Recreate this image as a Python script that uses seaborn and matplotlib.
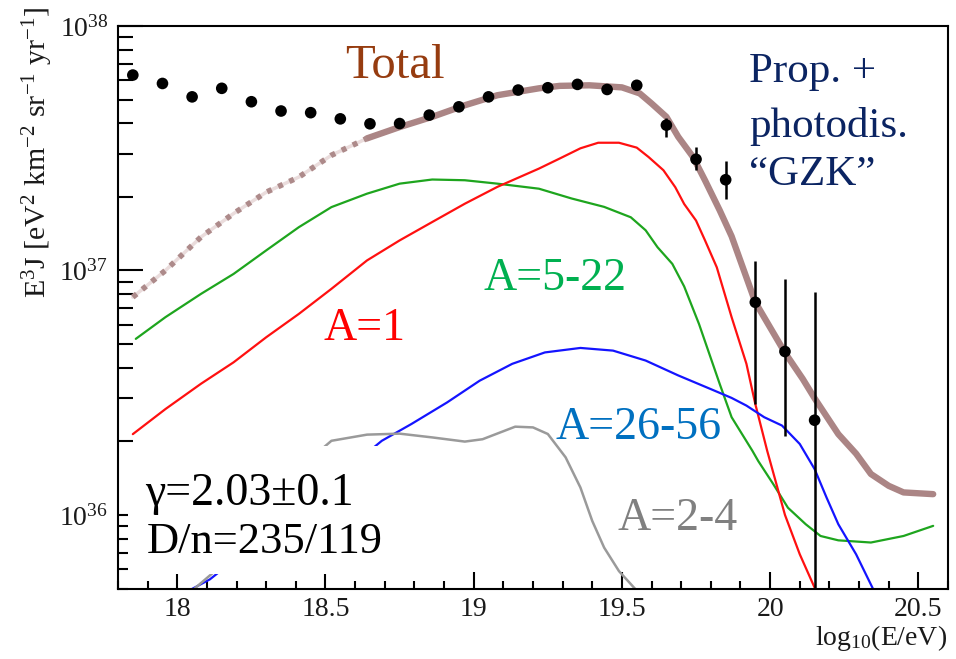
import matplotlib
matplotlib.use("Agg")
import matplotlib.pyplot as plt
from matplotlib.patches import Rectangle
from matplotlib.ticker import FixedLocator, LogLocator, LogFormatterMathtext, MultipleLocator, NullFormatter
import pandas as pd
import seaborn as sns

# E^3 J values are given in units of 1e37 eV^2 km^-2 sr^-1 yr^-1
SCALE = 1e37

# measured spectrum
data_logE = [17.85, 17.95, 18.05, 18.15, 18.25, 18.35, 18.45, 18.55, 18.65, 18.75, 18.85, 18.95,
             19.05, 19.15, 19.25, 19.35, 19.45, 19.55, 19.65, 19.75, 19.85, 19.95, 20.05, 20.15]
data_flux = [6.30, 5.82, 5.13, 5.56, 4.90, 4.49, 4.42, 4.17, 3.98, 3.99, 4.32, 4.67,
             5.13, 5.47, 5.59, 5.77, 5.50, 5.72, 3.93, 2.85, 2.35, 0.741, 0.466, 0.244]
bar_logE = [19.65, 19.75, 19.85, 19.95, 20.05, 20.15]
bar_lo = [3.51, 2.57, 1.96, 0.285, 0.211, 0.01]
bar_hi = [4.20, 3.20, 2.81, 1.09, 0.927, 0.813]

# model: total flux (dashed below the fit range)
total_logE = [17.85, 17.96, 18.08, 18.19, 18.30, 18.41, 18.52, 18.64, 18.75, 18.86, 18.97, 19.08,
              19.22, 19.29, 19.39, 19.50, 19.56, 19.60, 19.65, 19.69, 19.74, 19.78, 19.83, 19.87,
              19.95, 20.05, 20.11, 20.15, 20.23, 20.29, 20.34, 20.40, 20.45, 20.55]
total_flux = [0.778, 1.00, 1.37, 1.71, 2.09, 2.41, 2.96, 3.47, 3.86, 4.25, 4.74, 5.21,
              5.56, 5.69, 5.72, 5.61, 5.30, 4.82, 4.25, 3.52, 2.91, 2.34, 1.76, 1.38,
              0.741, 0.461, 0.36, 0.30, 0.214, 0.178, 0.147, 0.1315, 0.1236, 0.1216]
fit_start = 18.64

# model components by mass group
red_logE = [17.85, 17.96, 18.08, 18.19, 18.30, 18.41, 18.52, 18.64, 18.75, 18.86, 18.97, 19.08,
            19.22, 19.29, 19.36, 19.42, 19.49, 19.55, 19.59, 19.64, 19.68, 19.71, 19.75, 19.78,
            19.82, 19.87, 19.92, 19.95, 19.97, 19.99, 20.05, 20.10, 20.15]
red_flux = [0.214, 0.271, 0.344, 0.421, 0.533, 0.664, 0.841, 1.099, 1.327, 1.578, 1.875, 2.198,
            2.61, 2.87, 3.16, 3.33, 3.33, 3.18, 2.91, 2.57, 2.19, 1.87, 1.60, 1.33,
            1.03, 0.644, 0.415, 0.284, 0.228, 0.183, 0.10, 0.069, 0.0504]

green_logE = [17.86, 17.96, 18.08, 18.19, 18.30, 18.41, 18.52, 18.64, 18.75, 18.86, 18.97, 19.08,
              19.22, 19.33, 19.44, 19.53, 19.58, 19.62, 19.67, 19.71, 19.76, 19.83, 19.87, 19.94,
              19.96, 20.01, 20.06, 20.12, 20.17, 20.23, 20.34, 20.45, 20.55]
green_flux = [0.525, 0.644, 0.802, 0.968, 1.208, 1.503, 1.816, 2.061, 2.265, 2.355, 2.339, 2.265,
              2.16, 1.97, 1.82, 1.65, 1.46, 1.245, 1.064, 0.86, 0.604, 0.343, 0.251, 0.183,
              0.166, 0.134, 0.107, 0.0916, 0.0820, 0.0787, 0.0771, 0.0820, 0.0902]

blue_logE = [18.05, 18.11, 18.30, 18.50, 18.69, 18.79, 18.91, 19.02, 19.13, 19.24, 19.36, 19.47,
             19.58, 19.69, 19.80, 19.87, 19.92, 19.98, 20.04, 20.10, 20.15, 20.19, 20.23, 20.29, 20.35]
blue_flux = [0.0498, 0.0545, 0.083, 0.13, 0.201, 0.2355, 0.2884, 0.354, 0.415, 0.462, 0.482, 0.470,
             0.428, 0.372, 0.327, 0.301, 0.280, 0.251, 0.232, 0.195, 0.154, 0.118, 0.0916, 0.0690, 0.049]

gray_logE = [18.05, 18.30, 18.45, 18.52, 18.64, 18.75, 18.86, 18.97, 19.03, 19.14, 19.20, 19.25,
             19.31, 19.36, 19.40, 19.44, 19.49, 19.55]
gray_flux = [0.049, 0.089, 0.17, 0.201, 0.213, 0.215, 0.2075, 0.1995, 0.204, 0.2296, 0.228, 0.2143,
             0.172, 0.1294, 0.0944, 0.0735, 0.0589, 0.049]

x_ticks = [18.0, 18.5, 19.0, 19.5, 20.0, 20.5]
x_ticklabels = ["18", "18.5", "19", "19.5", "20", "20.5"]

sns.set_style("ticks")
plt.rcParams["font.family"] = ["Liberation Serif", "DejaVu Serif"]
plt.rcParams["mathtext.fontset"] = "custom"
plt.rcParams["mathtext.rm"] = "Liberation Serif"
plt.rcParams["mathtext.it"] = "Liberation Serif:italic"
plt.rcParams["mathtext.bf"] = "Liberation Serif:bold"

W, H = 956, 659
fig = plt.figure(figsize=(W / 100, H / 100), dpi=100)
ax = fig.add_axes([118 / W, 1 - 588.5 / H, 830 / W, 562.5 / H])
ax.set_yscale("log")


def frame(xs, ys):
    return pd.DataFrame({"logE": xs, "flux": [v * SCALE for v in ys]})


total = frame(total_logE, total_flux)
low = total[total["logE"] <= fit_start]
high = total[total["logE"] >= fit_start]

# total: faint link + dashes below the fit range, thick band above
sns.lineplot(data=low, x="logE", y="flux", ax=ax, color="#eadcdc", lw=2.5, zorder=2)
sns.lineplot(data=low, x="logE", y="flux", ax=ax, color="#ad8a8a", lw=4.0,
             zorder=2.1).lines[-1].set_dashes((0.9, 1.3))
sns.lineplot(data=high, x="logE", y="flux", ax=ax, color="#ab8585", lw=4.6, zorder=2)

sns.lineplot(data=frame(green_logE, green_flux), x="logE", y="flux", ax=ax, color="#1ea51e", lw=1.6, zorder=2.2)
sns.lineplot(data=frame(red_logE, red_flux), x="logE", y="flux", ax=ax, color="#ff1010", lw=1.6, zorder=2.2)
sns.lineplot(data=frame(blue_logE, blue_flux), x="logE", y="flux", ax=ax, color="#1414ff", lw=1.6, zorder=2.2)
sns.lineplot(data=frame(gray_logE, gray_flux), x="logE", y="flux", ax=ax, color="#9a9a9a", lw=1.8, zorder=2.2)

# measured points with error bars
ax.vlines(bar_logE, [v * SCALE for v in bar_lo], [v * SCALE for v in bar_hi], color="black", lw=1.8, zorder=4)
sns.scatterplot(data=frame(data_logE, data_flux), x="logE", y="flux", ax=ax, color="black",
                s=70, edgecolor="none", zorder=5)

ax.set_xlim(17.8, 20.6)
ax.set_ylim(5e35, 1e38)

ax.xaxis.set_major_locator(FixedLocator(x_ticks))
ax.set_xticklabels(x_ticklabels)
ax.xaxis.set_minor_locator(MultipleLocator(0.1))
ax.yaxis.set_major_locator(LogLocator(base=10, numticks=10))
ax.yaxis.set_major_formatter(LogFormatterMathtext())
ax.yaxis.set_minor_locator(LogLocator(base=10, subs=[2, 3, 4, 5, 6, 7, 8, 9], numticks=20))
ax.yaxis.set_minor_formatter(NullFormatter())

ax.tick_params(axis="both", which="both", direction="in", width=1.5, color="black",
               top=False, right=False, labelsize=20, labelcolor="#1a1a1a")
ax.tick_params(axis="x", which="major", length=12, pad=6)
ax.tick_params(axis="x", which="minor", length=5.5)
ax.tick_params(axis="y", which="major", length=18, pad=7)
ax.tick_params(axis="y", which="minor", length=11)
for side in ["left", "bottom", "right", "top"]:
    ax.spines[side].set_visible(True)
    ax.spines[side].set_color("black")
    ax.spines[side].set_linewidth(1.5)
ax.set_xlabel("")
ax.set_ylabel("")

fig.canvas.draw()
for loc, tick in zip(ax.yaxis.get_minorticklocs(), ax.yaxis.get_minor_ticks()):
    if loc < 1e36:
        tick.tick1line.set_markersize(7)
for loc, tick in zip(ax.yaxis.get_majorticklocs(), ax.yaxis.get_major_ticks()):
    if loc <= 1e36:
        tick.tick1line.set_markersize(7)

# axis titles
fig.text(38 / W, 1 - 7 / H, r"E$^{3}$J [eV$^{2}$ km$^{-2}$ sr$^{-1}$ yr$^{-1}$]",
         rotation=90, ha="center", va="top", fontsize=21.5, color="#1a1a1a")
fig.text(947 / W, 1 - 645 / H, r"log$_{10}$(E/eV)", ha="right", va="baseline",
         fontsize=20, color="#1a1a1a")


def axfrac(px, py):
    return (px - 118) / 830, (588.5 - py) / 562.5


# white panel holding the fit parameters
bx0, by0 = axfrac(131, 574)
bx1, by1 = axfrac(405, 446)
ax.add_patch(Rectangle((bx0, by0), bx1 - bx0, by1 - by0, transform=ax.transAxes,
                       facecolor="white", edgecolor="none", zorder=3))

labels = [
    ("Total", 345, 78, 35, "#963c10"),
    ("Prop. +", 749, 82, 31, "#0b2462"),
    ("photodis.", 749, 137, 31, "#0b2462"),
    ("\u201cGZK\u201d", 749, 185, 31, "#0b2462"),
    ("A=1", 323, 340, 33, "#ff0000"),
    ("A=5-22", 483, 290, 33, "#00b050"),
    ("A=26-56", 555, 439, 33, "#0070c0"),
    ("A=2-4", 617, 530, 33, "#808080"),
    ("\u03b3=2.03\u00b10.1", 145, 505, 33, "black"),
    ("D/n=235/119", 147, 553, 32, "black"),
]
for text, px, py, size, color in labels:
    fx, fy = axfrac(px, py)
    ax.text(fx, fy, text, transform=ax.transAxes, ha="left", va="baseline",
            fontsize=size, color=color, zorder=6)

fig.savefig("out.png", dpi=100)
